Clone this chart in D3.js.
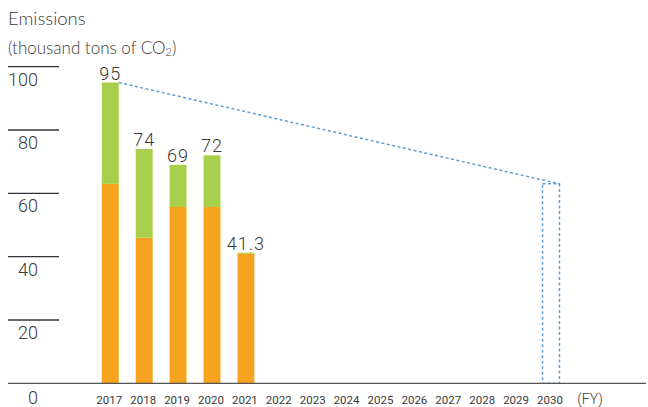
<!DOCTYPE html>
<html>
<head>
<meta charset="utf-8">
<script src="https://cdn.jsdelivr.net/npm/d3@7"></script>
<style>
  html, body { margin: 0; padding: 0; background: #fff; }
  svg { display: block; }
</style>
</head>
<body>
<svg id="chart" width="648" height="407"></svg>
<script>
// Fiscal years shown on the axis
const years = ["2017","2018","2019","2020","2021","2022","2023","2024","2025","2026","2027","2028","2029","2030"];
// Years with measured emissions
const dataYears = ["2017","2018","2019","2020","2021"];
// Stacked components (thousand tons of CO2)
const orangeValues = [63, 46, 55.7, 55.7, 41.0];
const totals = [95, 74, 69, 72, 41.3];
const greenValues = totals.map((t, i) => +(t - orangeValues[i]).toFixed(1));
const totalLabels = ["95", "74", "69", "72", "41.3"];
// 2030 target
const targetYear = "2030";
const targetValue = 63;
// Y axis ticks
const yTicks = [0, 20, 40, 60, 80, 100];

const svg = d3.select("#chart");
const numFont = "Roboto, 'Noto Sans', sans-serif";
const textFont = "Lato, 'Noto Sans', sans-serif";
const textColor = "#3a3a3a";

const y = d3.scaleLinear().domain([0, 100]).range([383.3, 66.7]);
const x = d3.scaleBand().domain(years).range([93.35, 567.95])
  .paddingInner(0.5).paddingOuter(0.25);

// Title
svg.append("text").attr("x", 8).attr("y", 25)
  .attr("font-family", textFont).attr("font-weight", 300).attr("font-size", 18.5)
  .attr("fill", textColor).text("Emissions");
const sub = svg.append("text").attr("x", 8).attr("y", 54)
  .attr("font-family", textFont).attr("font-weight", 300).attr("font-size", 17)
  .attr("fill", textColor);
sub.append("tspan").text("(thousand tons of CO");
sub.append("tspan").attr("font-size", 11).attr("dy", 2).text("2");
sub.append("tspan").attr("dy", -2).text(")");

// Short gridlines with labels beneath
const tickG = svg.append("g");
yTicks.filter(d => d > 0).forEach(d => {
  tickG.append("line")
    .attr("x1", 8).attr("x2", 59)
    .attr("y1", y(d)).attr("y2", y(d))
    .attr("stroke", "#333").attr("stroke-width", 1.3);
});
yTicks.forEach(d => {
  tickG.append("text")
    .attr("x", 38).attr("y", d === 0 ? 404 : y(d) + 19)
    .attr("text-anchor", "end")
    .attr("font-family", numFont).attr("font-weight", 300)
    .attr("font-size", 18).attr("fill", textColor)
    .text(d);
});

// Stacked bars
const stackData = dataYears.map((yr, i) => ({ year: yr, orange: orangeValues[i], green: greenValues[i] }));
const series = d3.stack().keys(["orange", "green"])(stackData);
const colors = { orange: "#f6a41f", green: "#a8cf4b" };
svg.append("g").selectAll("g").data(series).join("g")
  .attr("fill", s => colors[s.key])
  .selectAll("rect").data(s => s).join("rect")
  .attr("x", d => x(d.data.year))
  .attr("width", x.bandwidth())
  .attr("y", d => y(d[1]))
  .attr("height", d => y(d[0]) - y(d[1]));

// Total labels
svg.append("g").selectAll("text").data(dataYears).join("text")
  .attr("x", d => x(d) + x.bandwidth() / 2)
  .attr("y", (d, i) => y(totals[i]) - 3)
  .attr("text-anchor", "middle")
  .attr("font-family", numFont).attr("font-weight", 300)
  .attr("font-size", 18).attr("letter-spacing", 1)
  .attr("fill", textColor)
  .text((d, i) => totalLabels[i]);

// Target trend and 2030 target box
const dashColor = "#5b9fdc";
svg.append("line")
  .attr("x1", x("2017") + x.bandwidth()).attr("y1", y(totals[0]))
  .attr("x2", x(targetYear) + x.bandwidth()).attr("y2", y(targetValue))
  .attr("stroke", dashColor).attr("stroke-width", 1.5)
  .attr("stroke-dasharray", "3,2.5");
svg.append("rect")
  .attr("x", x(targetYear)).attr("y", y(targetValue))
  .attr("width", x.bandwidth()).attr("height", y(0) - y(targetValue))
  .attr("fill", "none").attr("stroke", dashColor).attr("stroke-width", 1.5)
  .attr("stroke-dasharray", "3,2.5");

// Baseline
svg.append("line")
  .attr("x1", 8).attr("x2", 646)
  .attr("y1", y(0)).attr("y2", y(0))
  .attr("stroke", "#555").attr("stroke-width", 1.3);

// Year labels
svg.append("g").selectAll("text").data(years).join("text")
  .attr("x", d => x(d) + x.bandwidth() / 2 - 1)
  .attr("y", 404)
  .attr("text-anchor", "middle")
  .attr("font-family", numFont).attr("font-size", 11.5)
  .attr("fill", textColor)
  .text(d => d);
svg.append("text").attr("x", 590).attr("y", 404)
  .attr("text-anchor", "middle")
  .attr("font-family", numFont).attr("font-weight", 300).attr("font-size", 14)
  .attr("fill", textColor).text("(FY)");
</script>
</body>
</html>
